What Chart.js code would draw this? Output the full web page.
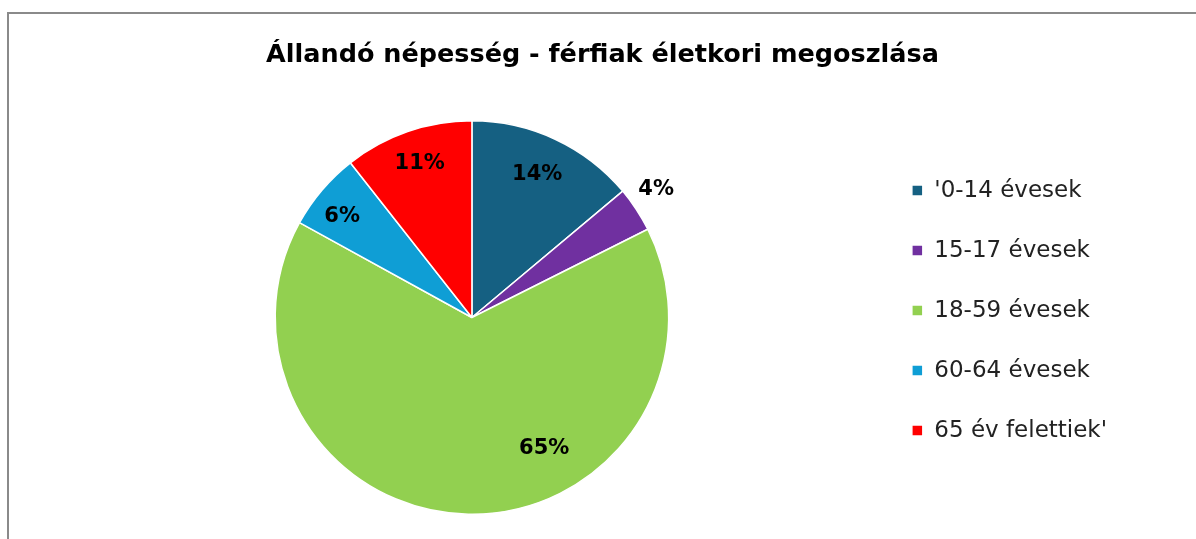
<!DOCTYPE html>
<html>
<head>
<meta charset="utf-8">
<script src="https://cdn.jsdelivr.net/npm/chart.js@4"></script>
<style>
  html, body { margin: 0; padding: 0; background: #ffffff; overflow: hidden; }
  #frame { position: absolute; left: 7px; top: 12px; width: 1300px; height: 700px;
           border-left: 2px solid #8a8a8a; border-top: 2px solid #8a8a8a; }
  #c { position: absolute; left: 0; top: 0; }
</style>
</head>
<body>
<div id="frame"></div>
<canvas id="c" width="1196" height="539"></canvas>
<script>
const chartTitle = "Állandó népesség - férfiak életkori megoszlása";
const categories = ["'0-14 évesek", "15-17 évesek", "18-59 évesek", "60-64 évesek", "65 év felettiek'"];
const values = [13.9, 3.7, 65.4, 6.4, 10.6];
const colors = ["#156082", "#7030A0", "#92D050", "#0F9ED5", "#FF0000"];
// label placement: fraction of radius and angular shift (degrees)
const labelRadius = [0.80, 1.14, 0.76, 0.835, 0.825];
const labelShift = [-0.5, -1.5, -30, -2.5, 0.3];

const pctLabels = {
  id: 'pctLabels',
  afterDatasetsDraw(chart) {
    const ctx = chart.ctx;
    const meta = chart.getDatasetMeta(0);
    const data = chart.data.datasets[0].data;
    const total = data.reduce((a, b) => a + b, 0);
    ctx.save();
    ctx.font = 'bold 21px "DejaVu Sans"';
    ctx.fillStyle = '#000000';
    ctx.textAlign = 'center';
    ctx.textBaseline = 'middle';
    meta.data.forEach((arc, i) => {
      const p = arc.getProps(['x', 'y', 'startAngle', 'endAngle', 'outerRadius'], true);
      const mid = (p.startAngle + p.endAngle) / 2 + labelShift[i] * Math.PI / 180;
      const r = p.outerRadius * labelRadius[i];
      const x = p.x + Math.cos(mid) * r;
      const y = p.y + Math.sin(mid) * r;
      ctx.fillText(Math.round(data[i] / total * 100) + '%', x, y);
    });
    ctx.restore();
  }
};

new Chart(document.getElementById('c'), {
  type: 'pie',
  data: {
    labels: categories,
    datasets: [{
      data: values,
      backgroundColor: colors,
      borderColor: '#ffffff',
      borderWidth: 1.5
    }]
  },
  options: {
    responsive: false,
    animation: false,
    layout: { padding: { left: 69, right: 60, top: 0, bottom: 24 } },
    plugins: {
      tooltip: { enabled: false },
      title: {
        display: true,
        text: chartTitle,
        color: '#000000',
        font: { family: '"DejaVu Sans"', size: 25.5, weight: 'bold', lineHeight: 1.2 },
        padding: { top: 40, bottom: 49.4 }
      },
      subtitle: {
        display: true,
        position: 'right',
        text: '',
        padding: 0,
        font: { size: 19, lineHeight: 1 }
      },
      legend: {
        display: true,
        position: 'right',
        align: 'start',
        fullSize: false,
        title: { display: true, text: '', padding: 0, font: { size: 17, lineHeight: 1.3 } },
        labels: {
          boxWidth: 11,
          boxHeight: 11,
          padding: 37,
          color: '#222222',
          font: { family: '"DejaVu Sans"', size: 23 }
        }
      }
    }
  },
  plugins: [pctLabels]
});
</script>
</body>
</html>
